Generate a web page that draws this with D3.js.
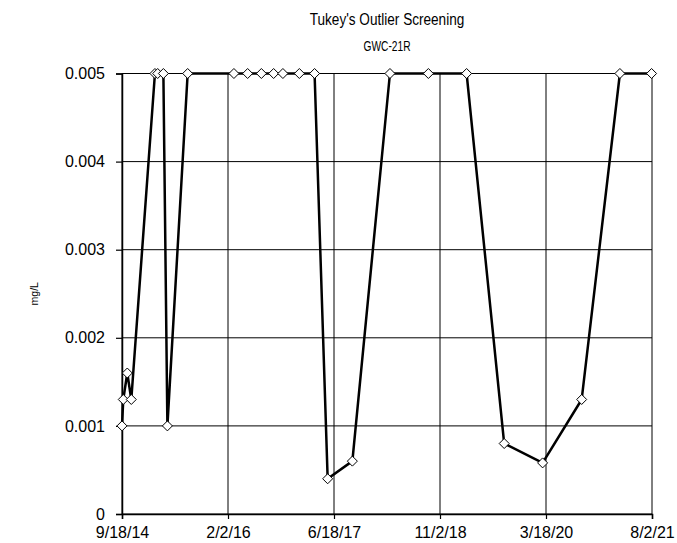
<!DOCTYPE html>
<html><head><meta charset="utf-8">
<script src="https://cdn.jsdelivr.net/npm/d3@7"></script>
<style>body{margin:0;background:#fff}</style>
</head><body>
<svg id="chart" width="677" height="543"></svg>
<script>
const sampleDates = ["2014-09-18","2014-09-24","2014-10-13","2014-11-01","2015-02-21","2015-03-06","2015-04-02","2015-04-21","2015-07-26","2016-03-01","2016-05-05","2016-07-09","2016-09-05","2016-10-19","2017-01-05","2017-03-18","2017-05-19","2017-09-13","2018-03-10","2018-09-08","2019-03-08","2019-09-02","2020-03-02","2020-09-03","2021-03-03","2021-07-31"];
const sampleValues = [0.001,0.0013,0.0016,0.0013,0.005,0.005,0.005,0.001,0.005,0.005,0.005,0.005,0.005,0.005,0.005,0.005,0.0004,0.0006,0.005,0.005,0.005,0.0008,0.00058,0.0013,0.005,0.005];
const xTickLabels = ["9/18/14","2/2/16","6/18/17","11/2/18","3/18/20","8/2/21"];
const yTickValues = [0,0.001,0.002,0.003,0.004,0.005];
const yTickLabels = ["0","0.001","0.002","0.003","0.004","0.005"];
const titleText = "Tukey's Outlier Screening";
const subtitleText = "GWC-21R";
const yAxisTitle = "mg/L";

const W = 677, H = 543;
const m = {left:122, right:25, top:73.5, bottom:29};
const svg = d3.select("#chart");
const parseISO = d3.utcParse("%Y-%m-%d");
const parseTick = d3.utcParse("%m/%d/%y");
const tickDates = xTickLabels.map(parseTick);
const data = sampleDates.map((d,i)=>({date:parseISO(d), value:sampleValues[i]}));

const x = d3.scaleUtc().domain([tickDates[0], tickDates[tickDates.length-1]]).range([m.left, W-m.right]);
const y = d3.scaleLinear().domain([0,0.005]).range([H-m.bottom, m.top]);
const font = "'Liberation Sans', Arial, sans-serif";

// gridlines
svg.append("g").selectAll("line.h").data(yTickValues).join("line")
  .attr("x1", m.left).attr("x2", W-m.right)
  .attr("y1", d=>y(d)).attr("y2", d=>y(d))
  .attr("stroke","#000").attr("stroke-width",1);
svg.append("g").selectAll("line.v").data(tickDates).join("line")
  .attr("x1", d=>x(d)).attr("x2", d=>x(d))
  .attr("y1", m.top).attr("y2", H-m.bottom)
  .attr("stroke","#000").attr("stroke-width",1);

// axes
const xAxis = svg.append("g").attr("transform",`translate(0,${H-m.bottom})`)
  .call(d3.axisBottom(x).tickValues(tickDates).tickFormat((d,i)=>xTickLabels[i]).tickSizeOuter(0).tickSize(5).tickPadding(8));
const yAxis = svg.append("g").attr("transform",`translate(${m.left},0)`)
  .call(d3.axisLeft(y).tickValues(yTickValues).tickFormat((d,i)=>yTickLabels[i]).tickSizeOuter(0).tickSize(6).tickPadding(11));
[xAxis,yAxis].forEach(a=>{
  a.select(".domain").attr("stroke","#000").attr("stroke-width",1.5);
  a.selectAll(".tick line").attr("stroke","#000").attr("stroke-width",1.2);
  a.selectAll("text").attr("font-family",font).attr("font-size",16).attr("fill","#000");
});

// line
svg.append("path").datum(data)
  .attr("d", d3.line().x(d=>x(d.date)).y(d=>y(d.value)))
  .attr("fill","none").attr("stroke","#000").attr("stroke-width",2.5).attr("stroke-linejoin","round");

// markers
svg.append("g").selectAll("path").data(data).join("path")
  .attr("transform", d=>`translate(${x(d.date)},${y(d.value)})`)
  .attr("d", "M0,-5L5,0L0,5L-5,0Z")
  .attr("fill","#fff").attr("stroke","#000").attr("stroke-width",1);

// titles (horizontally condensed like the reference)
const cx = (m.left + W - m.right)/2;
svg.append("text").attr("transform",`translate(${cx},25) scale(0.8,1)`).attr("text-anchor","middle")
  .attr("font-family",font).attr("font-size",17).text(titleText);
svg.append("text").attr("transform",`translate(${cx},51) scale(0.73,1)`).attr("text-anchor","middle")
  .attr("font-family",font).attr("font-size",14).text(subtitleText);
svg.append("text").attr("transform",`translate(38,${(m.top+H-m.bottom)/2}) rotate(-90)`)
  .attr("text-anchor","middle").attr("font-family",font).attr("font-size",10.5).text(yAxisTitle);
</script>
</body></html>
